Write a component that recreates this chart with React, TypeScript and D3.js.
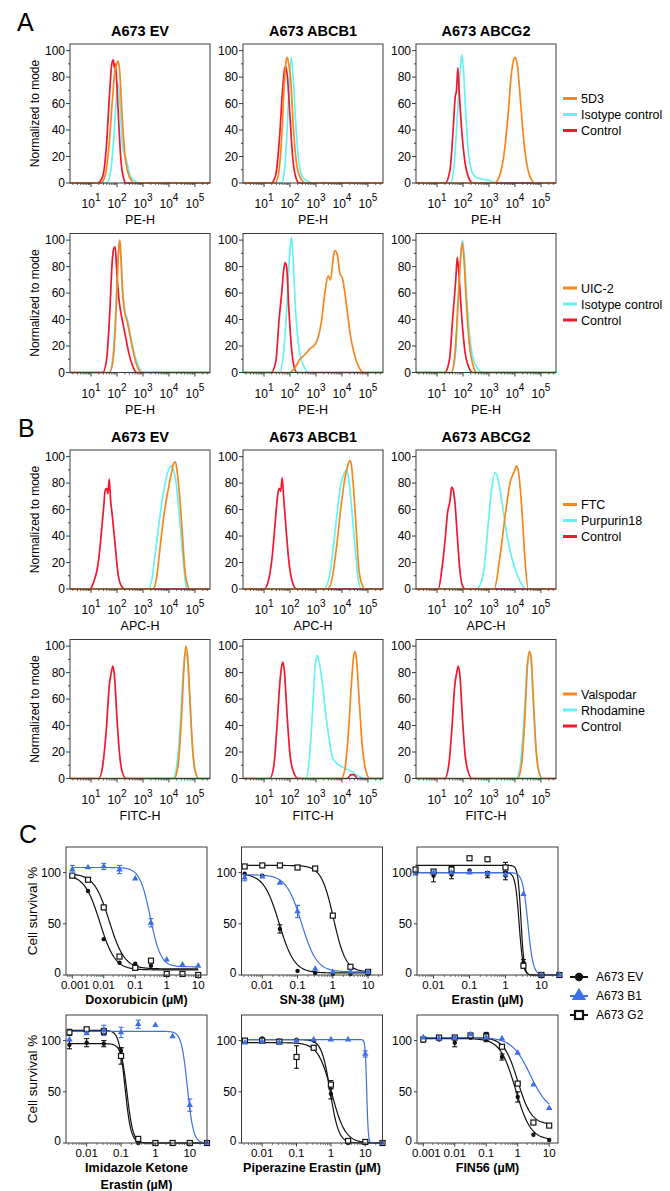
import * as d3 from "d3";

const FONT = "'Liberation Sans', Arial, Helvetica, sans-serif";
const RED = "#F5172E";
const CYAN = "#66F2F2";
const ORANGE = "#F7861E";
const BLUE = "#3D6FE6";
const FRAME = "#3a3a3a";

// flow histograms: each curve is [log10(intensity), % of mode]
// order in every panel: control (red), isotype / dye (cyan), stain / inhibitor (orange)
const a1Ev = [
  [[1.25,0],[1.45,5],[1.6,30],[1.72,70],[1.8,90],[1.86,93],[1.9,87],[1.94,90],[2.0,72],[2.08,40],[2.16,15],[2.25,4],[2.35,0]],
  [[1.6,0],[1.75,8],[1.88,35],[1.98,65],[2.05,75],[2.12,58],[2.2,30],[2.28,22],[2.36,17],[2.5,6],[2.65,2],[2.85,0]],
  [[1.38,0],[1.55,6],[1.7,30],[1.82,62],[1.92,85],[1.99,90],[2.05,92],[2.1,85],[2.2,50],[2.3,22],[2.42,8],[2.55,2],[2.65,0]],
];
const a1B1 = [
  [[1.28,0],[1.45,6],[1.6,35],[1.72,72],[1.8,87],[1.84,88],[1.9,80],[2.0,50],[2.1,20],[2.2,6],[2.35,0]],
  [[1.68,0],[1.8,12],[1.9,45],[1.98,80],[2.05,95],[2.12,80],[2.22,45],[2.34,16],[2.5,4],[2.9,0]],
  [[1.42,0],[1.55,6],[1.68,35],[1.78,75],[1.86,93],[1.9,95],[1.95,90],[2.02,80],[2.12,45],[2.25,15],[2.4,4],[2.6,0]],
];
const a1G2 = [
  [[1.32,0],[1.5,10],[1.62,40],[1.7,65],[1.75,70],[1.8,87],[1.85,70],[1.95,40],[2.08,15],[2.2,5],[2.38,0]],
  [[1.52,0],[1.65,12],[1.78,50],[1.88,82],[1.95,97],[2.02,85],[2.1,55],[2.2,25],[2.32,10],[2.45,5],[2.7,3],[3.0,2],[3.3,0]],
  [[3.2,0],[3.4,5],[3.6,25],[3.75,55],[3.85,80],[3.95,93],[4.0,95],[4.05,93],[4.1,88],[4.2,65],[4.35,30],[4.5,10],[4.65,2],[4.78,0]],
];
const a2Ev = [
  [[1.45,0],[1.6,10],[1.72,45],[1.82,85],[1.88,94],[1.93,95],[1.98,80],[2.06,58],[2.15,45],[2.25,35],[2.35,25],[2.45,15],[2.6,5],[2.75,0]],
  [[1.7,0],[1.84,12],[1.95,45],[2.03,82],[2.08,98],[2.12,95],[2.2,65],[2.3,47],[2.4,40],[2.5,30],[2.62,18],[2.8,6],[3.0,0]],
  [[1.72,0],[1.85,10],[1.95,40],[2.03,80],[2.08,97],[2.11,100],[2.15,88],[2.22,60],[2.3,45],[2.4,38],[2.5,28],[2.6,18],[2.75,6],[2.95,0]],
];
const a2B1 = [
  [[1.28,0],[1.45,8],[1.58,40],[1.68,60],[1.76,78],[1.81,83],[1.87,80],[1.95,50],[2.05,20],[2.15,5],[2.27,0]],
  [[1.6,0],[1.75,15],[1.88,50],[1.98,88],[2.05,102],[2.12,85],[2.22,45],[2.35,18],[2.5,6],[2.75,0]],
  [[2.0,0],[2.2,4],[2.38,10],[2.6,14],[2.77,18],[2.96,21],[3.09,27],[3.22,40],[3.34,60],[3.47,73],[3.56,70],[3.69,90],[3.73,92],[3.83,88],[3.92,75],[4.02,71],[4.18,50],[4.31,30],[4.46,15],[4.63,5],[4.82,0]],
];
const a2G2 = [
  [[1.3,0],[1.48,10],[1.6,40],[1.68,60],[1.72,70],[1.78,87],[1.84,75],[1.95,42],[2.08,15],[2.22,4],[2.38,0]],
  [[1.55,0],[1.7,12],[1.82,52],[1.92,90],[1.98,100],[2.05,88],[2.15,55],[2.3,20],[2.5,5],[2.78,0]],
  [[1.55,0],[1.68,12],[1.8,50],[1.9,85],[1.97,98],[2.03,88],[2.12,55],[2.25,20],[2.38,6],[2.52,0]],
];
const b1Ev = [
  [[0.95,0],[1.1,5],[1.28,20],[1.41,45],[1.5,65],[1.54,74],[1.6,76],[1.65,72],[1.7,83],[1.75,68],[1.82,55],[1.92,35],[2.05,10],[2.15,3],[2.3,0]],
  [[3.2,0],[3.35,8],[3.46,25],[3.62,50],[3.78,72],[3.95,88],[4.1,93],[4.2,88],[4.29,78],[4.4,55],[4.49,35],[4.58,15],[4.68,0]],
  [[3.38,0],[3.52,8],[3.65,30],[3.8,55],[3.97,75],[4.1,88],[4.16,94],[4.25,96],[4.32,88],[4.42,68],[4.52,40],[4.61,15],[4.7,4],[4.81,0]],
];
const b1B1 = [
  [[1.0,0],[1.15,5],[1.3,22],[1.42,48],[1.52,70],[1.58,76],[1.64,74],[1.7,84],[1.76,68],[1.85,45],[1.95,22],[2.08,6],[2.25,0]],
  [[3.3,0],[3.5,8],[3.65,28],[3.8,55],[3.95,78],[4.1,88],[4.18,90],[4.28,80],[4.4,55],[4.52,28],[4.62,8],[4.75,0]],
  [[3.45,0],[3.62,8],[3.78,30],[3.95,60],[4.1,82],[4.22,93],[4.3,97],[4.36,94],[4.45,75],[4.55,45],[4.65,15],[4.78,3],[4.88,0]],
];
const b1G2 = [
  [[1.05,0],[1.18,14],[1.31,37],[1.4,57],[1.5,67],[1.56,77],[1.62,75],[1.69,65],[1.78,40],[1.88,14],[2.01,1],[2.1,0]],
  [[2.52,0],[2.78,11],[2.97,49],[3.1,75],[3.23,88],[3.32,85],[3.49,67],[3.68,42],[3.94,19],[4.19,6],[4.45,0]],
  [[3.2,0],[3.42,24],[3.62,55],[3.81,80],[4.0,90],[4.05,93],[4.13,89],[4.26,62],[4.38,24],[4.51,0]],
];
const b2Ev = [
  [[1.3,0],[1.45,10],[1.6,40],[1.7,70],[1.78,80],[1.84,85],[1.9,78],[2.0,45],[2.1,18],[2.2,5],[2.35,0]],
  [[4.15,0],[4.3,10],[4.45,45],[4.55,80],[4.63,95],[4.7,92],[4.8,60],[4.9,25],[5.0,6],[5.15,0]],
  [[4.2,0],[4.35,10],[4.48,45],[4.58,85],[4.65,100],[4.72,92],[4.82,55],[4.92,20],[5.02,5],[5.15,0]],
];
const b2B1 = [
  [[1.22,0],[1.38,10],[1.5,40],[1.6,70],[1.68,85],[1.72,88],[1.78,82],[1.88,50],[2.0,18],[2.15,4],[2.32,0],[4.2,0],[4.35,3],[4.45,3],[4.6,0]],
  [[2.6,0],[2.72,10],[2.85,45],[2.97,85],[3.04,93],[3.1,90],[3.26,70],[3.38,48],[3.47,35],[3.57,22],[3.66,15],[3.9,10],[4.18,7],[4.4,5],[4.6,2],[4.95,0]],
  [[3.98,0],[4.12,8],[4.25,35],[4.36,70],[4.45,92],[4.5,96],[4.56,90],[4.66,60],[4.78,25],[4.92,6],[5.07,0]],
];
const b2G2 = [
  [[1.3,0],[1.45,10],[1.58,40],[1.68,70],[1.76,80],[1.82,85],[1.88,78],[1.98,45],[2.08,18],[2.2,5],[2.35,0]],
  [[4.05,0],[4.2,10],[4.35,45],[4.45,80],[4.53,94],[4.6,92],[4.7,60],[4.8,25],[4.92,6],[5.05,0]],
  [[4.1,0],[4.25,10],[4.38,45],[4.48,85],[4.55,96],[4.62,92],[4.72,55],[4.82,20],[4.92,5],[5.05,0]],
];

const histTitles = ["A673 EV", "A673 ABCB1", "A673 ABCG2"];
const legendA1 = ["5D3", "Isotype control", "Control"];
const legendA2 = ["UIC-2", "Isotype control", "Control"];
const legendB1 = ["FTC", "Purpurin18", "Control"];
const legendB2 = ["Valspodar", "Rhodamine", "Control"];
const histYTicks = [0, 20, 40, 60, 80, 100];
const histXTicks = [1, 2, 3, 4, 5];

// dose response (panel C)
const halfLog9 = [0.00316, 0.01, 0.0316, 0.1, 0.316, 1, 3.16, 10, 31.6];
const doseDox = [0.001, 0.00316, 0.01, 0.0316, 0.1, 0.316, 1, 3.16, 10];
const doseSn38 = [0.00316, 0.01, 0.0316, 0.1, 0.316, 1, 3.16, 10];

const doxEV = [97, 82, 35, 12, 11, 9, 1, 1, 0];
const doxB1 = [103, 105, 106, 103, 94, 51, 15, 10, 9];
const doxG2 = [97, 93, 66, 18, 7, 14, 1, 1, 0];
const doxB1Err = [4, 0, 3, 4, 0, 4, 0, 0, 0];

const snEV = [99, 97, 45, 4, 2, 1, 1, 1];
const snB1 = [95, 96, 90, 62, 6, 3, 3, 3];
const snG2 = [106, 107, 107, 105, 104, 58, 8, 3];
const snB1Err = [3, 0, 0, 6, 0, 0, 0, 0];
const snEVErr = [0, 0, 4, 0, 0, 0, 0, 0];

const erEV = [100, 97, 98, 102, 98, 97, 12, 0, 0];
const erB1 = [99, 100, 100, 100, 99, 98, 79, 0, 0];
const erG2 = [103, 101, 103, 114, 113, 105, 9, 0, 0];
const erEVErr = [0, 6, 4, 0, 3, 4, 3, 0, 0];
const erG2Err = [0, 0, 3, 0, 0, 5, 0, 0, 0];

const ikeEV = [96, 98, 97, 90, 0, 0, 0, 0, 0];
const ikeB1 = [101, 107, 110, 108, 116, 115, 104, 37, 0];
const ikeG2 = [108, 111, 109, 85, 4, 0, 0, 0, 0];
const ikeEVErr = [4, 4, 3, 3, 0, 0, 0, 0, 0];
const ikeB1Err = [0, 0, 5, 5, 4, 0, 0, 6, 0];
const ikeG2Err = [3, 0, 3, 8, 0, 0, 0, 0, 0];

const peEV = [100, 102, 100, 101, 100, 48, 0, 0, 0];
const peB1 = [98, 99, 98, 100, 101, 101, 101, 87, 0];
const peG2 = [100, 100, 99, 84, 93, 57, 2, 1, 0];
const peEVErr = [0, 0, 0, 0, 0, 5, 0, 0, 0];
const peG2Err = [0, 0, 0, 11, 0, 4, 0, 0, 0];
const peB1Err = [0, 0, 0, 0, 0, 0, 0, 3, 0];

const finEV = [100, 101, 98, 103, 103, 84, 45, 8, 3];
const finB1 = [103, 102, 103, 106, 103, 102, 88, 57, 34];
const finG2 = [101, 103, 103, 105, 104, 94, 58, 20, 17];
const finEVErr = [0, 0, 4, 0, 4, 3, 5, 0, 0];
const finG2Err = [0, 0, 0, 0, 4, 0, 0, 0, 0];

// four-parameter logistic fits: [top, bottom, IC50, hill]
const fitDox = { ev: [98, 5, 0.0075, 1.8], b1: [105, 8, 0.3, 2.6], g2: [99, 6, 0.015, 1.8] };
const fitSn = { ev: [99, 2, 0.03, 2], b1: [98, 3, 0.13, 2], g2: [107, 3, 1.05, 2.5] };
const fitEr = { ev: [100, 0, 2.4, 8], b1: [100, 0, 4.2, 6], g2: [107, 0, 2.7, 10] };
const fitIke = { ev: [97, 0, 0.15, 5], b1: [109, 0, 8.5, 5], g2: [110, 0, 0.13, 5] };
const fitPe = { ev: [101, 0, 0.95, 3.5], b1: [101, 0, 11, 20], g2: [98, 0, 1.05, 2.2] };
const fitFin = { ev: [102, 3, 0.85, 1.8], b1: [103, 30, 2.5, 1.5], g2: [103, 18, 1.0, 2] };

const cYTicks = [0, 50, 100];
const cLegend = ["A673 EV", "A673 B1", "A673 G2"];

const LOG_LO = 0.19;
const LOG_HI = 5.58;
const HW = 140;
const HH = 139;
const HIST_COLS = [70, 243, 416];
const CW = 141;
const CH = 128;
const C_COLS = [66, 241.5, 417];

function Histogram({ left, top, curves, title, xLabel, showY, legend }: any) {
  const x = d3.scaleLog().domain([Math.pow(10, LOG_LO), Math.pow(10, LOG_HI)]).range([left, left + HW]);
  const y = d3.scaleLinear().domain([0, 105]).range([top + HH, top]);
  const line = d3.line<number[]>()
    .x((d) => x(Math.pow(10, d[0])))
    .y((d) => y(d[1]))
    .curve(d3.curveMonotoneX);
  const colors = [RED, CYAN, ORANGE];
  const drawOrder = [1, 0, 2];
  const minorX: number[] = [];
  for (let dec = 0; dec <= 5; dec++) {
    for (let k = 2; k <= 9; k++) {
      const v = k * Math.pow(10, dec);
      if (Math.log10(v) > LOG_LO && Math.log10(v) < LOG_HI) minorX.push(v);
    }
  }
  const bottom = top + HH;
  return (
    <g>
      {title && (
        <text x={left + HW / 2} y={top - 8} textAnchor="middle" fontSize={14.5} fontWeight="bold">{title}</text>
      )}
      {drawOrder.map((i) => (
        <path key={i} d={line([[LOG_LO, 0], ...curves[i], [LOG_HI, 0]]) || ""}
          fill="none" stroke={colors[i]} strokeWidth={1.7} strokeLinejoin="round" />
      ))}
      <rect x={left} y={top} width={HW} height={HH} fill="none" stroke={FRAME} strokeWidth={1} />
      {histYTicks.map((t) => (
        <g key={t}>
          <line x1={left - 4} x2={left} y1={y(t)} y2={y(t)} stroke={FRAME} />
          <text x={left - 5} y={y(t)} dy="0.36em" textAnchor="end" fontSize={12}>{t}</text>
        </g>
      ))}
      {[10, 30, 50, 70, 90].map((t) => (
        <line key={t} x1={left - 2} x2={left} y1={y(t)} y2={y(t)} stroke={FRAME} />
      ))}
      {minorX.map((v) => (
        <line key={v} x1={x(v)} x2={x(v)} y1={bottom} y2={bottom + 2} stroke={FRAME} strokeWidth={0.8} />
      ))}
      {histXTicks.map((e) => (
        <g key={e}>
          <line x1={x(Math.pow(10, e))} x2={x(Math.pow(10, e))} y1={bottom} y2={bottom + 4} stroke={FRAME} />
          <text x={x(Math.pow(10, e))} y={bottom + 25} textAnchor="middle" fontSize={12}>
            10<tspan dy={-7} fontSize={10}>{e}</tspan>
          </text>
        </g>
      ))}
      <text x={left + HW / 2} y={bottom + 41} textAnchor="middle" fontSize={12.5}>{xLabel}</text>
      {showY && (
        <text transform={`translate(${left - 31},${top + HH / 2}) rotate(-90)`} textAnchor="middle" fontSize={12}>Normalized to mode</text>
      )}
      {legend && legend.map((name: string, i: number) => {
        const ly = top + 54.5 + i * 16;
        const c = [ORANGE, CYAN, RED][i];
        return (
          <g key={name}>
            <line x1={563} x2={577} y1={ly} y2={ly} stroke={c} strokeWidth={3} />
            <text x={581} y={ly} dy="0.36em" fontSize={12.5}>{name}</text>
          </g>
        );
      })}
    </g>
  );
}

function Marker({ kind, cx, cy, big }: any) {
  const s = big ? 2.2 : 1;
  if (kind === "circle") {
    return <circle cx={cx} cy={cy} r={2.2 * (big ? 1.9 : 1)} fill="#111" />;
  }
  if (kind === "triangle") {
    const p = d3.symbol().type(d3.symbolTriangle).size(18 * s * s)();
    return <path d={p || ""} transform={`translate(${cx},${cy})`} fill={BLUE} />;
  }
  const h = big ? 4 : 2.5;
  return <rect x={cx - h} y={cy - h} width={2 * h} height={2 * h} fill="#fff" stroke="#111" strokeWidth={big ? 2.2 : 1.2} />;
}

function DosePanel({ left, top, lo, hi, labels, title, series, showY }: any) {
  const x = d3.scaleLog().domain([Math.pow(10, lo), Math.pow(10, hi)]).range([left, left + CW]);
  const y = d3.scaleLinear().domain([0, 125]).range([top + CH, top]);
  const bottom = top + CH;
  const fitLine = (f: number[], doses: number[]) => {
    const a = Math.log10(d3.min(doses) as number);
    const b = Math.log10(d3.max(doses) as number);
    const samples = d3.range(0, 241).map((i) => Math.pow(10, a + ((b - a) * i) / 240));
    return d3.line<number>()
      .x((c) => x(c))
      .y((c) => y(f[1] + (f[0] - f[1]) / (1 + Math.pow(c / f[2], f[3]))))(samples) || "";
  };
  const minor: number[] = [];
  for (let dec = -4; dec <= 1; dec++) {
    for (let k = 2; k <= 9; k++) {
      const v = k * Math.pow(10, dec);
      if (Math.log10(v) > lo && Math.log10(v) < hi) minor.push(v);
    }
  }
  return (
    <g>
      {series.map((s: any, i: number) => (
        <path key={i} d={fitLine(s.fit, s.doses)} fill="none" stroke={s.color} strokeWidth={1.2} />
      ))}
      {series.map((s: any, i: number) => (
        <g key={"p" + i}>
          {s.doses.map((dose: number, j: number) => {
            const e = s.errs ? s.errs[j] : 0;
            const cx = x(dose);
            return (
              <g key={j}>
                {e > 0 && (
                  <g stroke={s.color} strokeWidth={1.1}>
                    <line x1={cx} x2={cx} y1={y(s.values[j] - e)} y2={y(s.values[j] + e)} />
                    <line x1={cx - 2.5} x2={cx + 2.5} y1={y(s.values[j] - e)} y2={y(s.values[j] - e)} />
                    <line x1={cx - 2.5} x2={cx + 2.5} y1={y(s.values[j] + e)} y2={y(s.values[j] + e)} />
                  </g>
                )}
                <Marker kind={s.marker} cx={cx} cy={y(s.values[j])} />
              </g>
            );
          })}
        </g>
      ))}
      <rect x={left} y={top} width={CW} height={CH} fill="none" stroke={FRAME} strokeWidth={1} />
      {cYTicks.map((t) => (
        <g key={t}>
          <line x1={left - 3} x2={left} y1={y(t)} y2={y(t)} stroke={FRAME} />
          <text x={left - 5} y={t === 0 ? y(t) - 2 : y(t)} dy="0.36em" textAnchor="end" fontSize={12}>{t}</text>
        </g>
      ))}
      {minor.map((v) => (
        <line key={v} x1={x(v)} x2={x(v)} y1={bottom} y2={bottom + 2} stroke={FRAME} strokeWidth={0.7} />
      ))}
      {labels.map((v: number) => (
        <g key={v}>
          <line x1={x(v)} x2={x(v)} y1={bottom} y2={bottom + 3.5} stroke={FRAME} />
          <text x={x(v) + (v === 0.001 ? 3 : 0)} y={bottom + 14} textAnchor="middle" fontSize={11.5}>{String(v)}</text>
        </g>
      ))}
      {title.map((t: string, i: number) => (
        <text key={t} x={left + CW / 2} y={bottom + 29 + i * 16.5} textAnchor="middle" fontSize={12.5} fontWeight="bold">{t}</text>
      ))}
      {showY && (
        <text transform={`translate(${left - 29},${top + CH / 2}) rotate(-90)`} textAnchor="middle" fontSize={13.5}>Cell survival %</text>
      )}
    </g>
  );
}

function series(doses: number[], ev: number[], b1: number[], g2: number[], fit: any, errs: any) {
  return [
    { doses, values: ev, errs: errs.ev, fit: fit.ev, color: "#111", marker: "circle" },
    { doses, values: g2, errs: errs.g2, fit: fit.g2, color: "#111", marker: "square" },
    { doses, values: b1, errs: errs.b1, fit: fit.b1, color: BLUE, marker: "triangle" },
  ];
}

export default function App() {
  const histRows = [
    { top: 44, panels: [a1Ev, a1B1, a1G2], label: "PE-H", legend: legendA1, titles: true },
    { top: 233.5, panels: [a2Ev, a2B1, a2G2], label: "PE-H", legend: legendA2, titles: false },
    { top: 450, panels: [b1Ev, b1B1, b1G2], label: "APC-H", legend: legendB1, titles: true },
    { top: 639.5, panels: [b2Ev, b2B1, b2G2], label: "FITC-H", legend: legendB2, titles: false },
  ];
  const c1 = 847;
  const c2 = 1015;
  return (
    <svg width={670} height={1191} fontFamily={FONT} style={{ position: "absolute", left: 0, top: 0, background: "#fff" }}>
      <text x={17} y={31} fontSize={25}>A</text>
      <text x={18} y={437} fontSize={25}>B</text>
      <text x={19} y={843} fontSize={25}>C</text>
      {histRows.map((row, r) =>
        row.panels.map((curves, c) => (
          <Histogram key={r + "-" + c} left={HIST_COLS[c]} top={row.top} curves={curves}
            title={row.titles ? histTitles[c] : null} xLabel={row.label} showY={c === 0}
            legend={c === 2 ? row.legend : null} />
        ))
      )}
      <DosePanel left={C_COLS[0]} top={c1} lo={-3.2} hi={1.28} labels={[0.001, 0.01, 0.1, 1, 10]}
        title={["Doxorubicin (µM)"]} showY
        series={series(doseDox, doxEV, doxB1, doxG2, fitDox, { b1: doxB1Err })} />
      <DosePanel left={C_COLS[1]} top={c1} lo={-2.59} hi={1.41} labels={[0.01, 0.1, 1, 10]}
        title={["SN-38 (µM)"]}
        series={series(doseSn38, snEV, snB1, snG2, fitSn, { b1: snB1Err, ev: snEVErr })} />
      <DosePanel left={C_COLS[2]} top={c1} lo={-2.46} hi={1.46} labels={[0.01, 0.1, 1, 10]}
        title={["Erastin (µM)"]}
        series={series(halfLog9, erEV, erB1, erG2, fitEr, { ev: erEVErr, g2: erG2Err })} />
      <DosePanel left={C_COLS[0]} top={c2} lo={-2.6} hi={1.5} labels={[0.01, 0.1, 1, 10]}
        title={["Imidazole Ketone", "Erastin (µM)"]} showY
        series={series(halfLog9, ikeEV, ikeB1, ikeG2, fitIke, { ev: ikeEVErr, b1: ikeB1Err, g2: ikeG2Err })} />
      <DosePanel left={C_COLS[1]} top={c2} lo={-2.6} hi={1.5} labels={[0.01, 0.1, 1, 10]}
        title={["Piperazine Erastin (µM)"]}
        series={series(halfLog9, peEV, peB1, peG2, fitPe, { ev: peEVErr, g2: peG2Err, b1: peB1Err })} />
      <DosePanel left={C_COLS[2]} top={c2} lo={-3.2} hi={1.28} labels={[0.001, 0.01, 0.1, 1, 10]}
        title={["FIN56 (µM)"]}
        series={series(doseDox, finEV, finB1, finG2, fitFin, { ev: finEVErr, g2: finG2Err })} />
      {cLegend.map((name, i) => {
        const ly = 977 + i * 19;
        const kind = ["circle", "triangle", "square"][i];
        const col = i === 1 ? BLUE : "#111";
        return (
          <g key={name}>
            <line x1={570} x2={588} y1={ly} y2={ly} stroke={col} strokeWidth={2} />
            <Marker kind={kind} cx={579} cy={ly} big />
            <text x={596} y={ly} dy="0.36em" fontSize={12}>{name}</text>
          </g>
        );
      })}
    </svg>
  );
}
